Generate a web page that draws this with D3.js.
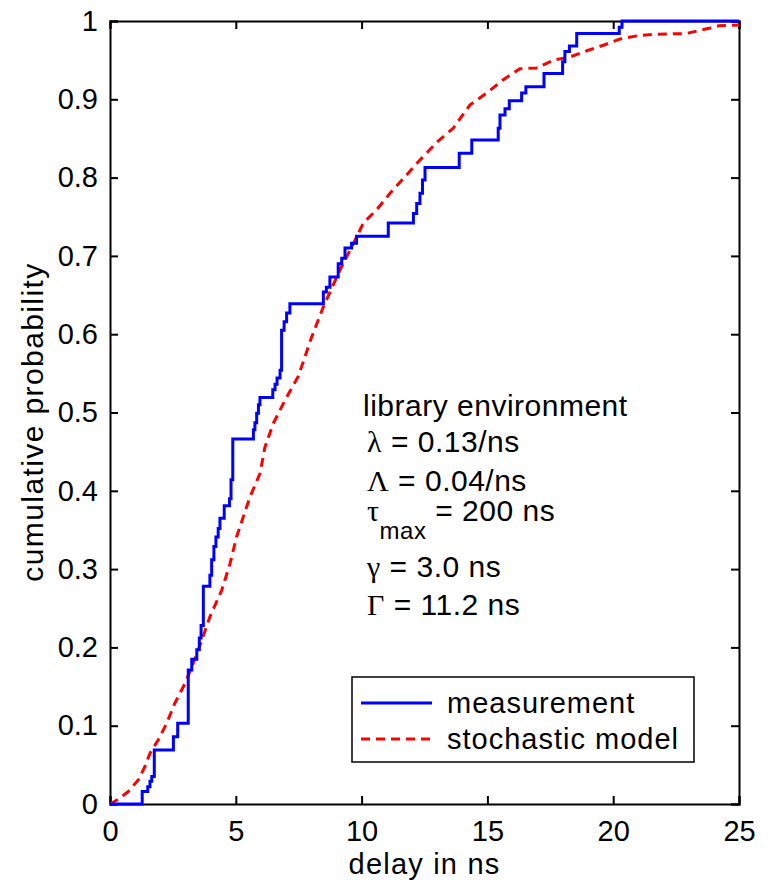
<!DOCTYPE html>
<html>
<head>
<meta charset="utf-8">
<script src="https://cdn.jsdelivr.net/npm/d3@7"></script>
<style>
  html, body { margin: 0; padding: 0; background: #fff; }
  svg text { font-family: "Liberation Sans", Arial, sans-serif; fill: #000; }
</style>
</head>
<body>
<svg id="chart" width="770" height="885"></svg>
<script>
// Measured delay CDF: step positions (ns) and the probability reached at each step
const measDelay = [0, 1.28, 1.50, 1.59, 1.66, 1.76, 2.52, 2.69, 3.11, 3.25, 3.45, 3.55, 3.62, 3.71, 3.97, 4.04, 4.13, 4.21, 4.30, 4.37, 4.54, 4.75, 4.81, 4.88,
  5.70, 5.76, 5.83, 5.90, 5.96, 6.47, 6.56, 6.64, 6.76, 6.82, 6.92, 7.02, 7.15, 8.48, 8.60, 8.74, 9.07, 9.21, 9.34, 9.60, 9.80,
  11.06, 12.06, 12.19, 12.32, 12.42, 12.52, 13.88, 14.38, 15.43, 15.50, 15.70, 15.87, 16.36, 16.53, 17.25, 17.99, 18.08, 18.26, 18.55, 20.24, 20.35, 25];
const measProb = [0, 0.016, 0.022, 0.029, 0.035, 0.069, 0.086, 0.103, 0.171, 0.185, 0.197, 0.212, 0.228, 0.278, 0.292, 0.312, 0.329, 0.341, 0.352, 0.365, 0.381, 0.390, 0.414, 0.466,
  0.478, 0.487, 0.499, 0.510, 0.519, 0.529, 0.536, 0.544, 0.554, 0.605, 0.616, 0.627, 0.639, 0.654, 0.660, 0.673, 0.690, 0.697, 0.710, 0.716, 0.725,
  0.742, 0.754, 0.767, 0.780, 0.797, 0.813, 0.831, 0.848, 0.863, 0.880, 0.888, 0.898, 0.908, 0.916, 0.933, 0.948, 0.961, 0.968, 0.984, 0.992, 1.0, 1.0];

// Stochastic model CDF
const modelDelay = [0, 0.33, 0.73, 1.13, 1.39, 1.59, 1.92, 2.25, 2.58, 2.98, 3.31, 3.58, 3.97, 4.44, 4.77, 5.03, 5.30, 5.56, 5.96, 6.16, 6.49, 6.96, 7.48, 8.0, 8.48,
  9.14, 9.74, 10.07, 10.6, 11.13, 11.72, 12.19, 12.98, 13.64, 14.31, 14.97, 15.63, 16.29, 16.96, 17.62, 18.28, 18.95, 19.61, 20.27, 20.93, 21.6, 22.9, 23.85, 24.2, 25];
const modelProb = [0, 0.006, 0.016, 0.031, 0.048, 0.065, 0.082, 0.103, 0.129, 0.154, 0.180, 0.203, 0.239, 0.273, 0.307, 0.341, 0.367, 0.392, 0.422, 0.456, 0.486, 0.516, 0.546, 0.595, 0.635,
  0.682, 0.720, 0.742, 0.759, 0.780, 0.801, 0.818, 0.845, 0.863, 0.893, 0.908, 0.925, 0.939, 0.940, 0.950, 0.954, 0.962, 0.969, 0.977, 0.981, 0.983, 0.984, 0.991, 0.994, 0.995];

const xTicks = [0, 5, 10, 15, 20, 25];
const yTicks = [0, 0.1, 0.2, 0.3, 0.4, 0.5, 0.6, 0.7, 0.8, 0.9, 1];
const seriesNames = ["measurement", "stochastic model"];

(function draw() {
  const svg = d3.select("#chart");
  const plotL = 110, plotR = 739, plotT = 21, plotB = 804;
  const x = d3.scaleLinear().domain([0, 25]).range([plotL, plotR]);
  const y = d3.scaleLinear().domain([0, 1]).range([plotB, plotT]);
  const fontSize = 29;
  const tickLen = 8;

  // Axes box with inward ticks on all sides
  const axes = svg.append("g");
  const fmtY = d => d === 0 || d === 1 ? String(d) : d3.format(".1f")(d);

  const axB = d3.axisBottom(x).tickValues(xTicks).tickSize(-tickLen).tickPadding(16).tickFormat(d3.format("d"));
  const axT = d3.axisTop(x).tickValues(xTicks).tickSize(-tickLen).tickFormat("");
  const axL = d3.axisLeft(y).tickValues(yTicks).tickSize(-tickLen).tickPadding(12).tickFormat(fmtY);
  const axR = d3.axisRight(y).tickValues(yTicks).tickSize(-tickLen).tickFormat("");

  [[axB, `translate(0,${plotB})`], [axT, `translate(0,${plotT})`], [axL, `translate(${plotL},0)`], [axR, `translate(${plotR},0)`]]
    .forEach(([ax, tr]) => {
      const g = axes.append("g").attr("transform", tr).call(ax);
      g.select(".domain").attr("stroke", "#000").attr("stroke-width", 2);
      g.selectAll(".tick line").attr("stroke", "#000").attr("stroke-width", 2);
      g.selectAll(".tick text").attr("font-size", fontSize).attr("font-family", "Liberation Sans, Arial, sans-serif").attr("fill", "#000");
    });

  // Axis titles
  svg.append("text").attr("x", (plotL + plotR) / 2).attr("y", 874)
    .attr("text-anchor", "middle").attr("font-size", fontSize).attr("letter-spacing", 1.2).text("delay in ns");
  svg.append("text").attr("transform", `translate(43,422) rotate(-90)`)
    .attr("text-anchor", "middle").attr("font-size", 30).attr("letter-spacing", 1.4).text("cumulative probability");

  // Curves
  const measPts = measDelay.map((d, i) => [d, measProb[i]]);
  const modelPts = modelDelay.map((d, i) => [d, modelProb[i]]);

  svg.append("path").datum(modelPts)
    .attr("fill", "none").attr("stroke", "#ff0000").attr("stroke-width", 3)
    .attr("stroke-dasharray", "9,6")
    .attr("d", d3.line().x(d => x(d[0])).y(d => y(d[1])));

  svg.append("path").datum(measPts)
    .attr("fill", "none").attr("stroke", "#0000ff").attr("stroke-width", 3)
    .attr("d", d3.line().curve(d3.curveStepAfter).x(d => x(d[0])).y(d => y(d[1])));

  // Parameter annotation
  const note = svg.append("g").attr("font-size", 30).attr("letter-spacing", 0.5);
  const greek = "Liberation Serif, DejaVu Serif, serif";
  const addLine = (xx, yy, sym, rest, sub) => {
    const t = note.append("text").attr("x", xx).attr("y", yy);
    if (sym) t.append("tspan").attr("font-family", greek).text(sym);
    if (sub) t.append("tspan").attr("font-size", 24).attr("dy", 18).text(sub);
    t.append("tspan").attr("dy", sub ? -18 : 0).text(rest);
  };
  addLine(363, 416, null, "library environment");
  addLine(367, 452, "λ", " = 0.13/ns");
  addLine(367, 491, "Λ", " = 0.04/ns");
  addLine(367, 521, "τ", " = 200 ns", "max");
  addLine(367, 577, "γ", " = 3.0 ns");
  addLine(367, 615, "Γ", " = 11.2 ns");

  // Legend
  const lg = svg.append("g");
  lg.append("rect").attr("x", 352).attr("y", 677).attr("width", 342).attr("height", 85)
    .attr("fill", "#fff").attr("stroke", "#000").attr("stroke-width", 1.5);
  const legendStyles = [{ c: "#0000ff", dash: null }, { c: "#ff0000", dash: "9,6" }];
  seriesNames.forEach((name, i) => {
    const yy = 703 + i * 36;
    lg.append("line").attr("x1", 361).attr("x2", 432).attr("y1", yy).attr("y2", yy)
      .attr("stroke", legendStyles[i].c).attr("stroke-width", 3)
      .attr("stroke-dasharray", legendStyles[i].dash);
    lg.append("text").attr("x", 447).attr("y", yy + 10).attr("font-size", fontSize)
      .attr("letter-spacing", 1).text(name);
  });
})();
</script>
</body>
</html>
